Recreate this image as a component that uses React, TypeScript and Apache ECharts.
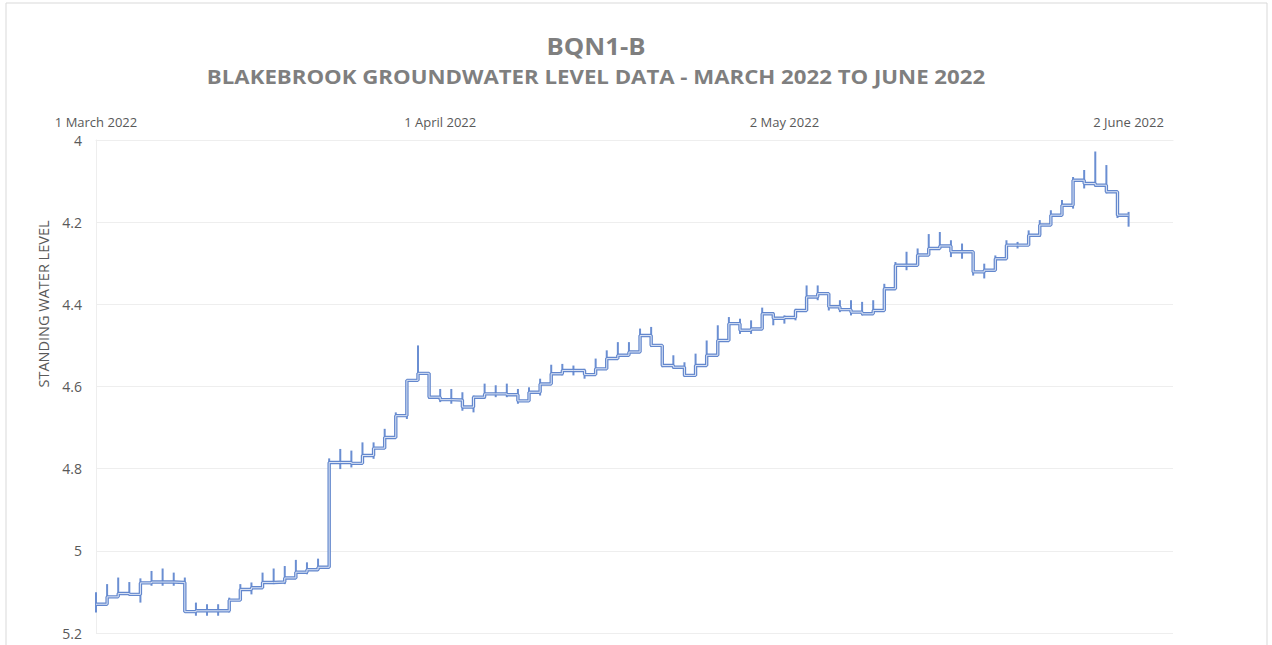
import React, { useEffect, useRef } from "react";
import * as echarts from "echarts";

const titleText = "BQN1-B";
const subtitleText = "BLAKEBROOK GROUNDWATER LEVEL DATA - MARCH 2022 TO JUNE 2022";
const yAxisTitle = "STANDING WATER LEVEL";
const monthNames = ["January", "February", "March", "April", "May", "June", "July", "August", "September", "October", "November", "December"];

// day index 0 = 1 March 2022
const level = [
  5.130, 5.112, 5.104, 5.106, 5.078, 5.076, 5.076, 5.077, 5.148, 5.146,
  5.146, 5.146, 5.120, 5.094, 5.090, 5.077, 5.076, 5.066, 5.052, 5.046,
  5.040, 4.785, 4.785, 4.787, 4.768, 4.750, 4.724, 4.671, 4.585, 4.568,
  4.626, 4.632, 4.633, 4.650, 4.626, 4.618, 4.618, 4.620, 4.635, 4.614,
  4.594, 4.569, 4.561, 4.561, 4.571, 4.557, 4.532, 4.524, 4.516, 4.476,
  4.500, 4.549, 4.553, 4.573, 4.549, 4.524, 4.488, 4.447, 4.463, 4.460,
  4.423, 4.434, 4.432, 4.415, 4.382, 4.374, 4.406, 4.413, 4.419, 4.423,
  4.415, 4.362, 4.305, 4.305, 4.280, 4.264, 4.258, 4.272, 4.272, 4.321,
  4.317, 4.289, 4.256, 4.256, 4.232, 4.207, 4.183, 4.159, 4.098, 4.106,
  4.110, 4.126, 4.183, 4.183,
];

const tickTop = [
  5.101, 5.081, 5.065, 5.076, 5.067, 5.049, 5.043, 5.053, 5.065, 5.126,
  5.130, 5.130, 5.114, 5.081, 5.077, 5.053, 5.043, 5.037, 5.022, 5.028,
  5.019, 4.775, 4.752, 4.756, 4.736, 4.736, 4.703, 4.663, 4.585, 4.500,
  4.573, 4.606, 4.606, 4.614, 4.622, 4.593, 4.597, 4.593, 4.606, 4.602,
  4.581, 4.547, 4.545, 4.549, 4.557, 4.532, 4.512, 4.492, 4.492, 4.459,
  4.455, 4.516, 4.524, 4.541, 4.520, 4.488, 4.451, 4.431, 4.435, 4.439,
  4.408, 4.419, 4.427, 4.411, 4.354, 4.354, 4.378, 4.390, 4.390, 4.394,
  4.390, 4.350, 4.297, 4.272, 4.264, 4.229, 4.224, 4.244, 4.252, 4.272,
  4.301, 4.281, 4.244, 4.248, 4.220, 4.195, 4.171, 4.146, 4.090, 4.073,
  4.028, 4.061, 4.126, 4.175,
];

const tickBottom = [
  5.150, 5.126, 5.109, 5.109, 5.126, 5.085, 5.085, 5.085, 5.150, 5.158,
  5.158, 5.158, 5.150, 5.118, 5.106, 5.089, 5.081, 5.081, 5.061, 5.057,
  5.049, 5.040, 4.801, 4.797, 4.785, 4.776, 4.752, 4.719, 4.679, 4.581,
  4.630, 4.638, 4.642, 4.659, 4.663, 4.630, 4.626, 4.626, 4.642, 4.622,
  4.622, 4.589, 4.573, 4.573, 4.581, 4.565, 4.541, 4.532, 4.524, 4.512,
  4.504, 4.553, 4.557, 4.577, 4.565, 4.528, 4.500, 4.463, 4.472, 4.472,
  4.455, 4.451, 4.447, 4.439, 4.390, 4.390, 4.415, 4.419, 4.427, 4.427,
  4.419, 4.402, 4.313, 4.317, 4.305, 4.280, 4.264, 4.285, 4.289, 4.330,
  4.337, 4.317, 4.289, 4.264, 4.248, 4.236, 4.195, 4.175, 4.167, 4.118,
  4.114, 4.130, 4.190, 4.211,
];

const X_MIN = 0;
const X_MAX = 97;
const X_INTERVAL = 31;
const Y_MIN = 4;
const Y_MAX = 5.2;
const Y_INTERVAL = 0.2;

function dayLabel(d: number): string {
  const dt = new Date(Date.UTC(2022, 2, 1) + d * 86400000);
  return `${dt.getUTCDate()} ${monthNames[dt.getUTCMonth()]} ${dt.getUTCFullYear()}`;
}

export default function App() {
  const ref = useRef<HTMLDivElement>(null);

  useEffect(() => {
    document.body.style.margin = "0";
    if (!ref.current) return;
    const chart = echarts.init(ref.current, null, { renderer: "svg" });

    const lineData = level.map((v, i) => [i, v]);
    const tickData = level.map((_, i) => [i, tickTop[i], tickBottom[i]]);
    const font = "'Open Sans', 'Liberation Sans', sans-serif";

    chart.setOption({
      animation: false,
      backgroundColor: "#ffffff",
      grid: { left: 96, right: 99, top: 140, bottom: 12, containLabel: false },
      xAxis: {
        type: "value",
        position: "top",
        min: X_MIN,
        max: X_MAX,
        interval: X_INTERVAL,
        axisLine: { show: true, onZero: false, lineStyle: { color: "#eeeeee", width: 1 } },
        axisTick: { show: false },
        splitLine: { show: false },
        axisLabel: {
          show: true,
          margin: 12,
          color: "#595959",
          fontFamily: font,
          fontSize: 13,
          showMaxLabel: false,
          formatter: (v: number) => (v % X_INTERVAL === 0 ? dayLabel(v) : ""),
        },
      },
      yAxis: {
        type: "value",
        inverse: true,
        min: Y_MIN,
        max: Y_MAX,
        interval: Y_INTERVAL,
        axisLine: { show: true, lineStyle: { color: "#eeeeee", width: 1 } },
        axisTick: { show: false },
        splitLine: { show: true, lineStyle: { color: "#eeeeee", width: 1 } },
        axisLabel: {
          margin: 14,
          color: "#595959",
          fontFamily: font,
          fontSize: 14,
          formatter: (v: number) => {
            const s = v.toFixed(1);
            return s.endsWith(".0") ? s.slice(0, -2) : s;
          },
        },
      },
      graphic: [
        {
          type: "rect",
          shape: { x: 6, y: 3, width: 1261, height: 700 },
          style: { fill: "none", stroke: "#d9d9d9", lineWidth: 1 },
          silent: true,
        },
        {
          type: "text",
          x: 596,
          y: 46,
          scaleX: 1.12,
          style: {
            text: titleText,
            fill: "#7f7f7f",
            font: `bold 23px ${font}`,
            textAlign: "center",
            textVerticalAlign: "middle",
          },
        },
        {
          type: "text",
          x: 596,
          y: 77,
          scaleX: 1.17,
          style: {
            text: subtitleText,
            fill: "#7f7f7f",
            font: `bold 19px ${font}`,
            textAlign: "center",
            textVerticalAlign: "middle",
          },
        },
        {
          type: "text",
          x: 43,
          y: 304,
          rotation: Math.PI / 2,
          style: {
            text: yAxisTitle,
            fill: "#595959",
            font: `14.5px ${font}`,
            textAlign: "center",
            textVerticalAlign: "middle",
          },
        },
      ],
      series: [
        {
          type: "custom",
          name: "range",
          data: tickData,
          encode: { x: 0, y: [1, 2] },
          renderItem: (params: any, api: any) => {
            const p1 = api.coord([api.value(0), api.value(1)]);
            const p2 = api.coord([api.value(0), api.value(2)]);
            return {
              type: "line",
              shape: { x1: p1[0], y1: p1[1], x2: p2[0], y2: p2[1] },
              style: { stroke: "#6a8ed2", lineWidth: 2 },
            };
          },
          z: 3,
        },
        {
          type: "line",
          name: "outer",
          data: lineData,
          step: "end",
          showSymbol: false,
          symbol: "none",
          lineStyle: { color: "#6387cd", width: 3.4 },
          z: 4,
        },
        {
          type: "line",
          name: "inner",
          data: lineData,
          step: "end",
          showSymbol: false,
          symbol: "none",
          lineStyle: { color: "#dde6f6", width: 1 },
          z: 5,
        },
      ],
    });

    return () => chart.dispose();
  }, []);

  return <div ref={ref} style={{ width: 1272, height: 645 }} />;
}
